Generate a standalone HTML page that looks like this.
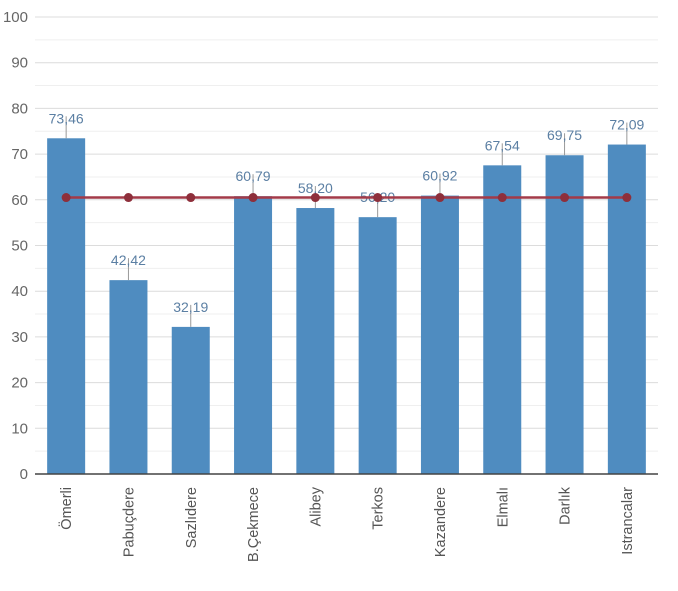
<!DOCTYPE html>
<html><head><meta charset="utf-8"><style>body{margin:0;background:#fff}svg{display:block;font-family:"Liberation Sans",Arial,sans-serif}</style></head><body>
<svg width="678" height="591" viewBox="0 0 678 591">
<g id="grid"></g>
<script>
(function(){
var s=document.currentScript.parentNode,ns="http://www.w3.org/2000/svg";
function el(t,a,txt){var e=document.createElementNS(ns,t);for(var k in a)e.setAttribute(k,a[k]);if(txt!=null)e.textContent=txt;s.appendChild(e);return e;}
var y0=474,k=4.57,x0=35,x1=658;
function Y(v){return y0-v*k;}
for(var v=5;v<=100;v+=5){el('line',{x1:x0,x2:x1,y1:Y(v),y2:Y(v),stroke:v%10?'#efefef':'#dcdcdc','stroke-width':1});}
for(var v=0;v<=100;v+=10){el('text',{x:28,y:Y(v)+5,'text-anchor':'end','font-size':15,fill:'#666'},v);}
var names=['Ömerli','Pabuçdere','Sazlıdere','B.Çekmece','Alibey','Terkos','Kazandere','Elmalı','Darlık','Istrancalar'];
var vals=[73.46,42.42,32.19,60.79,58.20,56.20,60.92,67.54,69.75,72.09];
var pitch=(x1-x0)/10;
for(var i=0;i<10;i++){var cx=x0+pitch*(i+0.5);
el('rect',{x:cx-19,y:Y(vals[i]),width:38,height:vals[i]*k,fill:'#4f8cc0'});
el('line',{x1:cx,x2:cx,y1:Y(vals[i]),y2:Y(vals[i])-22,stroke:'#999','stroke-width':1});
el('text',{x:cx,y:Y(vals[i])-15,'text-anchor':'middle','font-size':14,fill:'#5b7fa3'},vals[i].toFixed(2).replace('.',','));
el('text',{x:cx+5,y:487,'text-anchor':'end','font-size':14.5,fill:'#555',transform:'rotate(-90 '+(cx+5)+' 487)'},names[i]);}
el('line',{x1:x0,x2:x1,y1:y0,y2:y0,stroke:'#444','stroke-width':1.5});
var m=Y(60.5);
el('line',{x1:x0+pitch/2,x2:x0+pitch*9.5,y1:m,y2:m,stroke:'#a33a48','stroke-width':2.5});
for(var i=0;i<10;i++){el('circle',{cx:x0+pitch*(i+0.5),cy:m,r:4.5,fill:'#8e2f3b'});}
})();
</script>
</svg>
</body></html>
